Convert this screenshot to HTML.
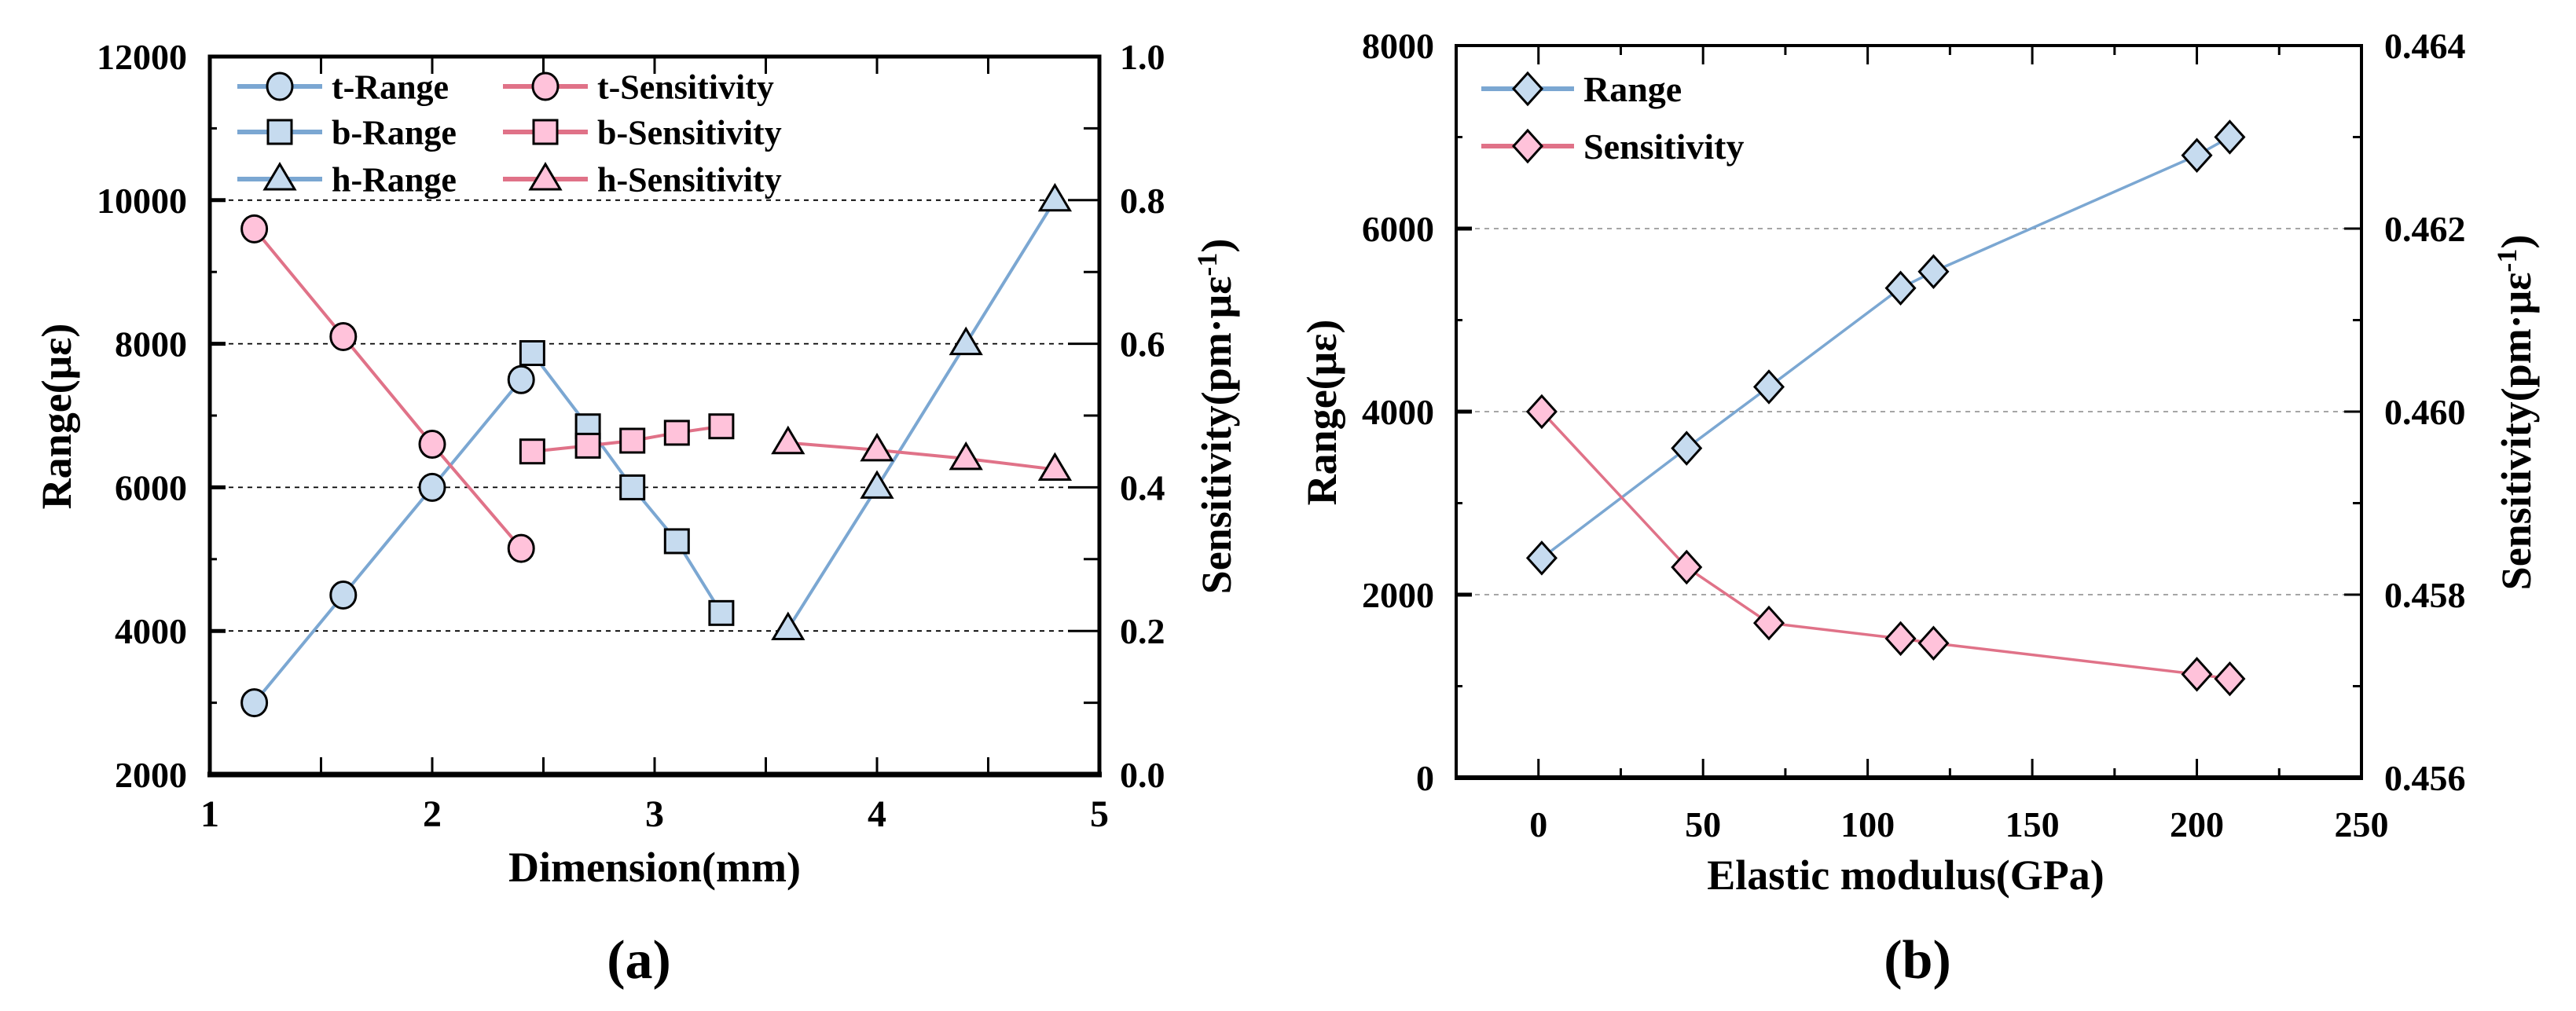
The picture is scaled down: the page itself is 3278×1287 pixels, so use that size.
<!DOCTYPE html>
<html><head><meta charset="utf-8"><style>
html,body{margin:0;padding:0;background:#fff}
svg{display:block}
text{font-family:"Liberation Serif",serif;font-weight:bold;fill:#000}
</style></head><body>
<svg id="s" width="3278" height="1287" viewBox="0 0 3278 1287" xmlns="http://www.w3.org/2000/svg"></svg>
<script>
// ---- Panel (a) data ----
const tX=[1.2,1.6,2.0,2.4];
const tRange=[3000,4500,6000,7500];
const tSens=[0.76,0.61,0.46,0.315];
const bX=[2.45,2.7,2.9,3.1,3.3];
const bRange=[7870,6850,6000,5250,4250];
const bSens=[0.45,0.458,0.465,0.476,0.485];
const hX=[3.6,4.0,4.4,4.8];
const hRange=[4030,6000,8000,10000];
const hSens=[0.462,0.452,0.44,0.425];
const aXTicks=[1,2,3,4,5];
const aYTicks=[2000,4000,6000,8000,10000,12000];
const aY2Ticks=["0.0","0.2","0.4","0.6","0.8","1.0"];
// ---- Panel (b) data ----
const eX=[1,45,70,110,120,200,210];
const eRange=[2400,3600,4270,5350,5530,6800,7000];
const eSens=[0.4600,0.4583,0.45769,0.45752,0.45747,0.45713,0.45708];
const bXTicks=[0,50,100,150,200,250];
const bYTicks=[0,2000,4000,6000,8000];
const bY2Ticks=["0.456","0.458","0.460","0.462","0.464"];

const NS="http://www.w3.org/2000/svg";
const svg=document.getElementById('s');
function el(tag,attrs,parent,txt){const e=document.createElementNS(NS,tag);for(const k in attrs)e.setAttribute(k,attrs[k]);if(txt!==undefined)e.textContent=txt;(parent||svg).appendChild(e);return e;}
const BL="#7ba7d2",BF="#c6dbef",PL="#e07288",PF="#ffc2da";

function marker(g,shape,x,y,fill,name){
  let m;
  if(shape==='circle'){m=el('ellipse',{cx:x,cy:y,rx:16,ry:17,fill:fill,stroke:'#000','stroke-width':3},g);}
  else if(shape==='square'){m=el('rect',{x:x-15,y:y-15,width:30,height:30,fill:fill,stroke:'#000','stroke-width':3},g);}
  else if(shape==='tri'){m=el('polygon',{points:`${x},${y-19} ${x-19},${y+13} ${x+19},${y+13}`,fill:fill,stroke:'#000','stroke-width':3},g);}
  else {m=el('polygon',{points:`${x},${y-20} ${x+18},${y} ${x},${y+20} ${x-18},${y}`,fill:fill,stroke:'#000','stroke-width':3},g);}
  
  
}
function series(xs,ys,sx,sy,color,fill,shape,name,w){
  const g=el('g',{});
  
  
  const pts=xs.map((x,i)=>sx(x)+','+sy(ys[i])).join(' ');
  const l=el('polyline',{points:pts,fill:'none',stroke:color,'stroke-width':w||4},g);
  
  
  xs.forEach((x,i)=>marker(g,shape,sx(x),sy(ys[i]),fill,name+'-point'));
}
function legendEntry(x,y,len,color,fill,shape,label,fs,w){
  const g=el('g',{});
  
  
  el('line',{x1:x,y1:y,x2:x+len,y2:y,stroke:color,'stroke-width':w},g);
  marker(g,shape,x+len/2,y,fill,'legend-marker');
  const t=el('text',{x:x+len+12,y:y+fs*0.35,'font-size':fs},g,label);
  
  
}

// ======== Panel (a) ========
const aL=267,aR=1399,aT=72,aB=986;
const ax=v=>aL+(v-1)/(5-1)*(aR-aL);
const ay=v=>aB-(v-2000)/(12000-2000)*(aB-aT);
const ay2=v=>aB-v/1.0*(aB-aT);
[4000,6000,8000,10000].forEach(v=>{const g=el('line',{x1:aL,y1:ay(v),x2:aR,y2:ay(v),stroke:'#000','stroke-width':1.8,'stroke-dasharray':'6,6'});});
for(let v=1.5;v<5;v+=0.5){el('line',{x1:ax(v),y1:aB,x2:ax(v),y2:aB-22,stroke:'#000','stroke-width':3});el('line',{x1:ax(v),y1:aT,x2:ax(v),y2:aT+22,stroke:'#000','stroke-width':3});}
for(let v=3000;v<12000;v+=1000){const maj=v%2000===0;el('line',{x1:aL,y1:ay(v),x2:aL+(maj?20:9),y2:ay(v),stroke:'#000','stroke-width':maj?5:3});}
for(let v=0.1;v<1;v+=0.1){const maj=Math.round(v*10)%2===0;el('line',{x1:aR,y1:ay2(v),x2:aR-(maj?40:20),y2:ay2(v),stroke:'#000','stroke-width':3});}
const fa=el('rect',{x:aL,y:aT,width:aR-aL,height:aB-aT,fill:'none',stroke:'#000','stroke-width':5});

el('line',{x1:aL-3,y1:aB,x2:aR+3,y2:aB,stroke:'#000','stroke-width':7});
aXTicks.forEach(v=>{const t=el('text',{x:ax(v),y:aB+66,'font-size':48,'text-anchor':'middle'},svg,String(v));});
aYTicks.forEach(v=>{const t=el('text',{x:238,y:ay(v)+16,'font-size':46,'text-anchor':'end'},svg,String(v));});
aY2Ticks.forEach(s=>{const t=el('text',{x:1425,y:ay2(parseFloat(s))+16,'font-size':46},svg,s);});
let tt=el('text',{x:833,y:1122,'font-size':54,'text-anchor':'middle'},svg,'Dimension(mm)');
tt=el('text',{x:0,y:0,'font-size':54,'text-anchor':'middle',transform:'translate(90,530) rotate(-90)'},svg,'Range(με)');
tt=el('text',{x:0,y:0,'font-size':54,'text-anchor':'middle',transform:'translate(1566,530) rotate(-90)'},svg);tt.innerHTML='Sensitivity(pm·με<tspan dy="-18" font-size="36">-1</tspan><tspan dy="18">)</tspan>';
tt=el('text',{x:813,y:1245,'font-size':70,'text-anchor':'middle','font-weight':'normal'},svg);tt.innerHTML='(<tspan font-weight="bold">a</tspan>)';
series(tX,tRange,ax,ay,BL,BF,'circle','t-range');
series(bX,bRange,ax,ay,BL,BF,'square','b-range');
series(hX,hRange,ax,ay,BL,BF,'tri','h-range');
series(tX,tSens,ax,ay2,PL,PF,'circle','t-sensitivity');
series(bX,bSens,ax,ay2,PL,PF,'square','b-sensitivity');
series(hX,hSens,ax,ay2,PL,PF,'tri','h-sensitivity');
legendEntry(302,110,108,BL,BF,'circle','t-Range',44,6);
legendEntry(302,168,108,BL,BF,'square','b-Range',44,6);
legendEntry(302,228,108,BL,BF,'tri','h-Range',44,6);
legendEntry(640,110,108,PL,PF,'circle','t-Sensitivity',44,6);
legendEntry(640,168,108,PL,PF,'square','b-Sensitivity',44,6);
legendEntry(640,228,108,PL,PF,'tri','h-Sensitivity',44,6);

// ======== Panel (b) ========
const bL=1853,bR=3005,bT=58,bB=990;
const bx=v=>bL+(v+25)/(250+25)*(bR-bL);
const by=v=>bB-v/8000*(bB-bT);
const by2=v=>bB-(v-0.456)/(0.464-0.456)*(bB-bT);
[2000,4000,6000].forEach(v=>{const g=el('line',{x1:bL,y1:by(v),x2:bR,y2:by(v),stroke:'#999','stroke-width':1.8,'stroke-dasharray':'6,6'});});
for(let v=0;v<250;v+=25){const maj=v%50===0;const L=maj?24:12;el('line',{x1:bx(v),y1:bB,x2:bx(v),y2:bB-L,stroke:'#000','stroke-width':3});el('line',{x1:bx(v),y1:bT,x2:bx(v),y2:bT+L,stroke:'#000','stroke-width':3});}
for(let v=1000;v<8000;v+=1000){const maj=v%2000===0;el('line',{x1:bL,y1:by(v),x2:bL+(maj?20:8),y2:by(v),stroke:'#000','stroke-width':maj?5:3});}
for(let k=1;k<8;k++){const v=0.456+k*0.001;const maj=k%2===0;el('line',{x1:bR,y1:by2(v),x2:bR-(maj?22:11),y2:by2(v),stroke:'#000','stroke-width':3});}
const fb=el('rect',{x:bL,y:bT,width:bR-bL,height:bB-bT,fill:'none',stroke:'#000','stroke-width':4});

el('line',{x1:bL-2,y1:bB,x2:bR+2,y2:bB,stroke:'#000','stroke-width':6});
bXTicks.forEach(v=>{const t=el('text',{x:bx(v),y:bB+75,'font-size':46,'text-anchor':'middle'},svg,String(v));});
bYTicks.forEach(v=>{const t=el('text',{x:1825,y:by(v)+16,'font-size':46,'text-anchor':'end'},svg,String(v));});
bY2Ticks.forEach(s=>{const t=el('text',{x:3034,y:by2(parseFloat(s))+16,'font-size':46},svg,s);});
tt=el('text',{x:2425,y:1132,'font-size':54,'text-anchor':'middle'},svg,'Elastic modulus(GPa)');
tt=el('text',{x:0,y:0,'font-size':54,'text-anchor':'middle',transform:'translate(1700,525) rotate(-90)'},svg,'Range(με)');
tt=el('text',{x:0,y:0,'font-size':54,'text-anchor':'middle',transform:'translate(3220,525) rotate(-90)'},svg);tt.innerHTML='Sensitivity(pm·με<tspan dy="-18" font-size="36">-1</tspan><tspan dy="18">)</tspan>';
tt=el('text',{x:2440,y:1245,'font-size':70,'text-anchor':'middle','font-weight':'normal'},svg);tt.innerHTML='(<tspan font-weight="bold">b</tspan>)';
series(eX,eRange,bx,by,BL,BF,'diamond','range',3.5);
series(eX,eSens,bx,by2,PL,PF,'diamond','sensitivity',3.5);
legendEntry(1885,113,118,BL,BF,'diamond','Range',46,6);
legendEntry(1885,186,118,PL,PF,'diamond','Sensitivity',46,6);
</script>
</body></html>
